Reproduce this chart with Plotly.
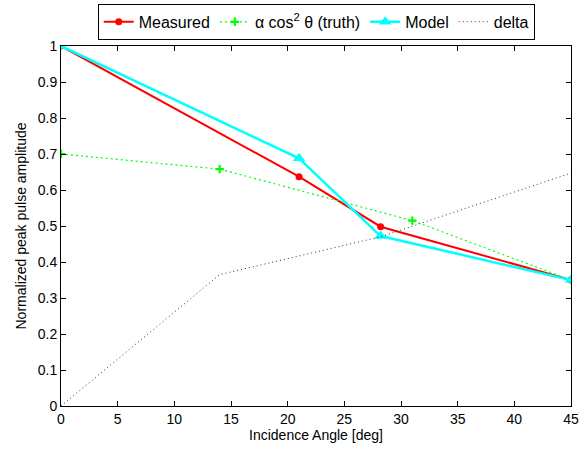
import plotly.graph_objects as go

# Data
meas_x = [0, 21, 28.2, 45]
meas_y = [1.0, 0.637, 0.498, 0.35]

model_x = [0, 21, 28.2, 45]
model_y = [1.0, 0.688, 0.472, 0.35]

truth_x = [0, 14, 31, 45]
truth_y = [0.70, 0.658, 0.515, 0.35]

delta_x = [0, 14, 28.2, 45]
delta_y = [0.0, 0.365, 0.47, 0.647]

x_ticks = [0, 5, 10, 15, 20, 25, 30, 35, 40, 45]
y_ticks = [0, 0.1, 0.2, 0.3, 0.4, 0.5, 0.6, 0.7, 0.8, 0.9, 1]
y_tick_labels = ["0", "0.1", "0.2", "0.3", "0.4", "0.5", "0.6", "0.7", "0.8", "0.9", "1"]

FONT = "Liberation Sans, Arial, Helvetica, sans-serif"

fig = go.Figure()
fig.add_trace(go.Scatter(
    x=meas_x, y=meas_y, name="Measured", mode="lines+markers",
    line=dict(color="#ff0000", width=2),
    marker=dict(symbol="circle", size=7, color="#ff0000"),
))
fig.add_trace(go.Scatter(
    x=truth_x, y=truth_y, name="α cos<sup>2</sup> θ (truth)", mode="lines+markers",
    line=dict(color="#00ff00", width=1.2, dash="2px,3px"),
    marker=dict(symbol="cross-thin", size=6, color="#00ff00",
                line=dict(color="#00ff00", width=2.2)),
))
fig.add_trace(go.Scatter(
    x=model_x, y=model_y, name="Model", mode="lines+markers",
    line=dict(color="#00ffff", width=2.5),
    marker=dict(symbol="triangle-up", size=11, color="#00ffff"),
))
fig.add_trace(go.Scatter(
    x=delta_x, y=delta_y, name="delta", mode="lines",
    line=dict(color="#333333", width=1, dash="1px,3px"),
))

axis_common = dict(
    showline=True, linecolor="black", linewidth=1, mirror="ticks",
    ticks="inside", ticklen=5, tickcolor="black", tickwidth=1,
    showgrid=False, zeroline=False, automargin=False,
    tickfont=dict(family=FONT, size=14, color="black"),
)

fig.update_layout(
    width=580, height=449,
    margin=dict(l=61, r=9, t=46, b=43, autoexpand=False),
    paper_bgcolor="white", plot_bgcolor="white",
    font=dict(family=FONT, size=14, color="black"),
    showlegend=True,
    legend=dict(
        orientation="h", x=0.072, y=1.117, xanchor="left", yanchor="top",
        bordercolor="black", borderwidth=1, bgcolor="white",
        font=dict(family=FONT, size=16, color="black"),
        itemwidth=30, tracegroupgap=0,
    ),
    xaxis=dict(
        range=[0, 45], tickvals=x_ticks,
        title=dict(text="Incidence Angle [deg]", standoff=0,
                   font=dict(family=FONT, size=14)),
        **axis_common,
    ),
    yaxis=dict(
        range=[0, 1], tickvals=y_ticks, ticktext=y_tick_labels,
        title=dict(text="Normalized peak pulse amplitude", standoff=7,
                   font=dict(family=FONT, size=14)),
        **axis_common,
    ),
)

fig.write_html(
    "out.html",
    config={"displayModeBar": False},
    post_script="document.body.style.margin='0';document.body.style.overflow='hidden';",
)
